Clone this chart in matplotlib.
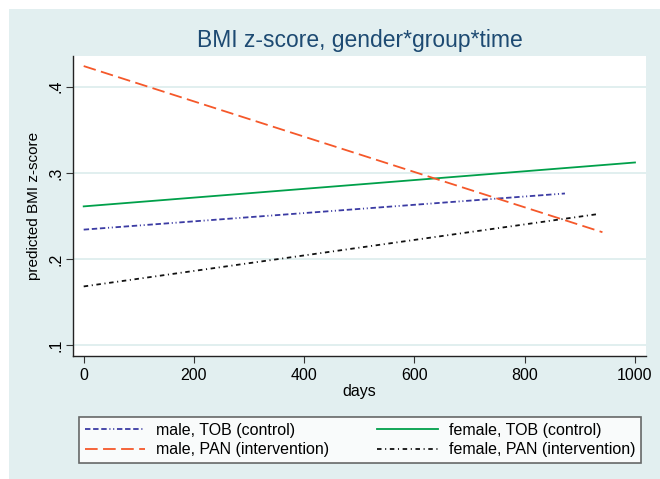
import matplotlib.pyplot as plt
from matplotlib.patches import Rectangle

plt.rcParams['font.family'] = ['Liberation Sans', 'DejaVu Sans']

# predicted BMI z-score at the first and last day of each group
labels = ['male, TOB (control)', 'female, TOB (control)',
          'male, PAN (intervention)', 'female, PAN (intervention)']
day_start = [0, 0, 0, 0]
day_end = [873, 1000, 941, 932]
z_start = [0.234, 0.261, 0.424, 0.168]
z_end = [0.276, 0.312, 0.231, 0.252]

colors = ['#3b3ba3', '#00a04a', '#f5582a', '#111111']
styles = [(0, (3, 1.5, 3, 1.5, 3, 1.5, 0.6, 1.5, 0.6, 1.5)), '-',
          (0, (7, 3)), (0, (2.5, 2, 0.6, 2))]

xticks = [0, 200, 400, 600, 800, 1000]
yticks = [0.1, 0.2, 0.3, 0.4]
ytick_labels = ['.1', '.2', '.3', '.4']

bg = '#e2eff0'
fig = plt.figure(figsize=(6.6, 4.79), dpi=100, facecolor='white')
fig.patches.append(Rectangle((9 / 660, 0), 1, 1 - 9 / 479, transform=fig.transFigure,
                             facecolor=bg, edgecolor='none', zorder=-10))

ax = fig.add_axes([73 / 660, 1 - 356 / 479, (646 - 73) / 660, (356 - 56) / 479])
ax.set_facecolor('white')

handles = []
for i in range(4):
    h, = ax.plot([day_start[i], day_end[i]], [z_start[i], z_end[i]],
                 color=colors[i], linestyle=styles[i], linewidth=1.3)
    handles.append(h)

ax.set_xlim(-19.4, 1020)
ax.set_ylim(0.0872, 0.4357)
ax.set_xticks(xticks)
ax.set_yticks(yticks)
ax.set_yticklabels(ytick_labels, rotation=90, va='center')
ax.tick_params(axis='both', labelsize=11.5, length=5, width=0.8, color='#333333')
ax.tick_params(axis='y', pad=2)
ax.grid(axis='y', color='#dcecec', linewidth=1.2)
ax.set_axisbelow(True)
for s in ['top', 'right']:
    ax.spines[s].set_visible(False)
for s in ['left', 'bottom']:
    ax.spines[s].set_color('#222222')
    ax.spines[s].set_linewidth(1)

ax.set_xlabel('days', fontsize=11.5, labelpad=1)
ax.set_ylabel('predicted BMI z-score', fontsize=11, labelpad=5)

# title centred over the plot region
fig.text(359.5 / 660, 1 - 40 / 479, 'BMI z-score, gender*group*time', ha='center',
         va='center', fontsize=16.5, color='#1d4a72')

order = [0, 2, 1, 3]
leg = fig.legend([handles[i] for i in order], [labels[i] for i in order],
                 ncol=2, loc='lower left',
                 bbox_to_anchor=(79 / 660, 1 - 463 / 479, (641 - 79) / 660, (463 - 410) / 479),
                 mode='expand', fontsize=11.5, frameon=True, fancybox=False,
                 edgecolor='#444444', handlelength=3.8, handletextpad=0.7,
                 borderaxespad=0, borderpad=0.35, labelspacing=0.3, columnspacing=1.5)
leg.get_frame().set_linewidth(1.2)

fig.savefig('out.png', dpi=100, facecolor=fig.get_facecolor())
